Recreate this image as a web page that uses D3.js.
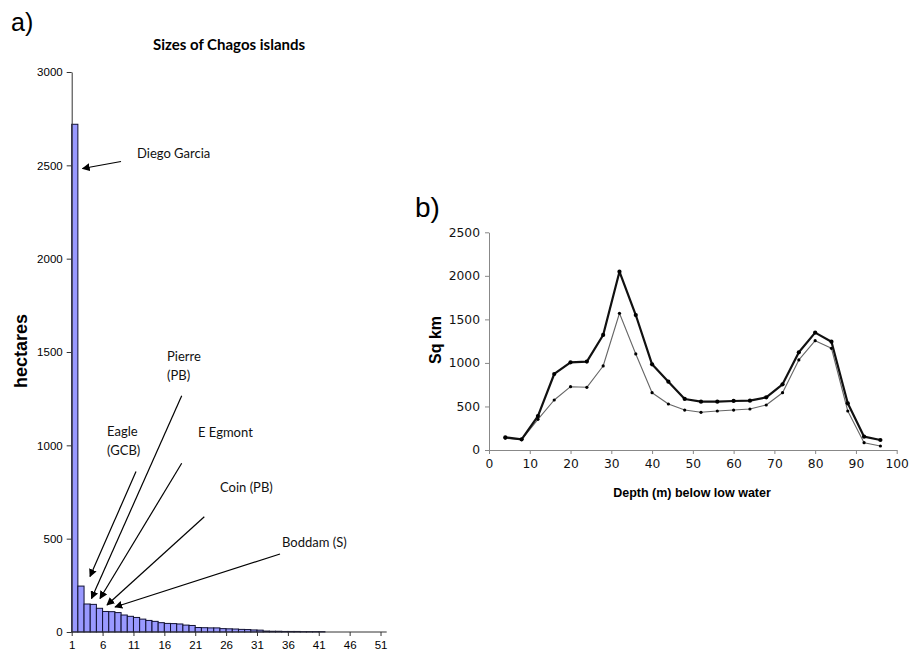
<!DOCTYPE html>
<html><head><meta charset="utf-8">
<script src="https://cdn.jsdelivr.net/npm/d3@7"></script>
<style>
body{margin:0;background:#fff;}
svg{display:block;}
</style></head>
<body>
<svg id="chart" width="911" height="659"></svg>
<script>
// ---- Panel a data: island sizes (hectares), ranked ----
const islandRank = d3.range(1, 42);
const islandHectares = [2720, 246, 150, 148, 127, 110, 109, 104, 91, 84,
  78, 69, 62, 57, 50, 46, 45, 43, 37, 35,
  24, 23, 22, 22, 18, 17, 16, 14, 13, 11,
  10, 5, 4, 4, 3, 3, 3, 2, 2, 2, 2];
const rankTicks = [1, 6, 11, 16, 21, 26, 31, 36, 41, 46, 51];
const hectareTicks = [0, 500, 1000, 1500, 2000, 2500, 3000];
const annotations = [
  {lines: ["Diego Garcia"], rank: 1},
  {lines: ["Eagle", "(GCB)"], rank: 2},
  {lines: ["Pierre", "(PB)"], rank: 3},
  {lines: ["E Egmont"], rank: 4},
  {lines: ["Coin (PB)"], rank: 5},
  {lines: ["Boddam (S)"], rank: 6}
];

// ---- Panel b data: area by depth ----
const depths = [4, 8, 12, 16, 20, 24, 28, 32, 36, 40, 44, 48, 52, 56, 60, 64, 68, 72, 76, 80, 84, 88, 92, 96];
const areaThick = [146, 123, 390, 873, 1007, 1015, 1321, 2048, 1550, 984, 785, 586, 555, 555, 563, 567, 605, 754, 1122, 1348, 1244, 536, 153, 115];
const areaThin = [135, 118, 352, 574, 727, 720, 965, 1570, 1103, 658, 528, 459, 433, 448, 459, 471, 517, 658, 1034, 1256, 1168, 448, 84, 46];
const depthTicks = d3.range(0, 101, 10);
const sqkmTicks = [0, 500, 1000, 1500, 2000, 2500];

const svg = d3.select("#chart");
const defs = svg.append("defs");
defs.append("marker").attr("id", "arrow").attr("viewBox", "0 0 10 10")
  .attr("refX", 9).attr("refY", 5).attr("markerWidth", 8).attr("markerHeight", 8)
  .attr("markerUnits", "userSpaceOnUse").attr("orient", "auto")
  .append("path").attr("d", "M0,0 L10,5 L0,10 z").attr("fill", "#000");

// ================= Panel a =================
const xA = d3.scaleLinear().domain([1, 52]).range([71.7, 386.7]);
const yA = d3.scaleLinear().domain([0, 3000]).range([632, 72]);
const gA = svg.append("g");

gA.append("text").attr("x", 11).attr("y", 31).attr("font-family", "Arial, Liberation Sans, sans-serif")
  .attr("font-size", 25).text("a)");
gA.append("text").attr("x", 229).attr("y", 50).attr("text-anchor", "middle")
  .attr("font-family", "Lato, sans-serif").attr("font-weight", "bold").attr("font-size", 15)
  .text("Sizes of Chagos islands");

gA.selectAll("rect.bar").data(islandRank).join("rect").attr("class", "bar")
  .attr("x", d => xA(d)).attr("width", d => xA(d + 1) - xA(d))
  .attr("y", (d, i) => yA(islandHectares[i]))
  .attr("height", (d, i) => yA(0) - yA(islandHectares[i]))
  .attr("fill", "#9999ff").attr("stroke", "#111133").attr("stroke-width", 1);

const axLeftA = gA.append("g").attr("transform", `translate(${xA(1)},0)`)
  .call(d3.axisLeft(yA).tickValues(hectareTicks).tickSize(5).tickSizeOuter(0).tickFormat(d3.format("d")));
axLeftA.selectAll("text").attr("font-family", "Arial, Liberation Sans, sans-serif").attr("font-size", 11.5).attr("fill", "#000").attr("dx", -1);
axLeftA.selectAll("line,path").attr("stroke", "#333");

const axBotA = gA.append("g").attr("transform", `translate(0,${yA(0)})`)
  .call(d3.axisBottom(xA).tickValues(rankTicks).tickSize(4).tickSizeOuter(0).tickFormat(d3.format("d")));
axBotA.selectAll("text").attr("font-family", "Arial, Liberation Sans, sans-serif").attr("font-size", 11.5).attr("fill", "#000").attr("dy", "0.9em");
axBotA.selectAll("line,path").attr("stroke", "#333");
axBotA.select("path").attr("d", `M${xA(1)},0H${xA(52)}`);

gA.append("text").attr("transform", "translate(27,351) rotate(-90)").attr("text-anchor", "middle")
  .attr("font-family", "Arial, Liberation Sans, sans-serif").attr("font-weight", "bold").attr("font-size", 18)
  .text("hectares");

// annotation layout
const annotLayout = [
  {tx: 137, ty: 158, from: [121, 161.5], to: [82.5, 168.5]},
  {tx: 107, ty: 436, from: [136, 471.5], to: [90, 576.5]},
  {tx: 167, ty: 361, from: [181.7, 395.7], to: [91.5, 598.5]},
  {tx: 198, ty: 437, from: [181.7, 463.3], to: [100, 598.5]},
  {tx: 220, ty: 492, from: [204.3, 516.7], to: [107, 605]},
  {tx: 282, ty: 547, from: [280, 554], to: [115, 607]}
];
annotations.forEach((a, i) => {
  const L = annotLayout[i];
  const t = gA.append("text").attr("x", L.tx).attr("y", L.ty)
    .attr("font-family", "Lato, sans-serif").attr("font-size", 13).attr("fill", "#111");
  a.lines.forEach((s, j) => t.append("tspan").attr("x", L.tx).attr("dy", j === 0 ? 0 : 19).text(s));
  gA.append("line").attr("x1", L.from[0]).attr("y1", L.from[1]).attr("x2", L.to[0]).attr("y2", L.to[1])
    .attr("stroke", "#000").attr("stroke-width", 1.2).attr("marker-end", "url(#arrow)");
});

// ================= Panel b =================
const xB = d3.scaleLinear().domain([0, 100]).range([489, 896.7]);
const yB = d3.scaleLinear().domain([0, 2500]).range([450, 232.3]);
const gB = svg.append("g");

gB.append("text").attr("x", 415).attr("y", 217).attr("font-family", "Arial, Liberation Sans, sans-serif")
  .attr("font-size", 28).text("b)");

const axLeftB = gB.append("g").attr("transform", `translate(${xB(0)},0)`)
  .call(d3.axisLeft(yB).tickValues(sqkmTicks).tickSize(4).tickSizeOuter(0).tickFormat(d3.format("d")));
axLeftB.selectAll("text").attr("font-family", "DejaVu Sans, sans-serif").attr("font-size", 12.3).attr("fill", "#111").attr("dx", -2);
axLeftB.selectAll("line,path").attr("stroke", "#888");

const axBotB = gB.append("g").attr("transform", `translate(0,${yB(0)})`)
  .call(d3.axisBottom(xB).tickValues(depthTicks).tickSize(4).tickSizeOuter(0).tickFormat(d3.format("d")));
axBotB.selectAll("text").attr("font-family", "DejaVu Sans, sans-serif").attr("font-size", 12.3).attr("fill", "#111").attr("dy", "0.9em");
axBotB.selectAll("line,path").attr("stroke", "#888");

gB.append("text").attr("transform", "translate(441,340) rotate(-90)").attr("text-anchor", "middle")
  .attr("font-family", "Arial, Liberation Sans, sans-serif").attr("font-weight", "bold").attr("font-size", 16)
  .text("Sq km");
gB.append("text").attr("x", 692).attr("y", 497).attr("text-anchor", "middle")
  .attr("font-family", "Arial, Liberation Sans, sans-serif").attr("font-weight", "bold").attr("font-size", 12.5)
  .text("Depth (m) below low water");

const series = [
  {vals: areaThin, color: "#666", width: 1.1, r: 1.6},
  {vals: areaThick, color: "#111", width: 2.2, r: 2.1}
];
series.forEach(s => {
  const line = d3.line().x((d, i) => xB(d)).y((d, i) => yB(s.vals[i]));
  gB.append("path").datum(depths).attr("d", line).attr("fill", "none")
    .attr("stroke", s.color).attr("stroke-width", s.width).attr("stroke-linejoin", "round");
  gB.selectAll(null).data(depths).join("circle")
    .attr("cx", d => xB(d)).attr("cy", (d, i) => yB(s.vals[i]))
    .attr("r", s.r).attr("fill", "#000");
});
</script>
</body></html>
